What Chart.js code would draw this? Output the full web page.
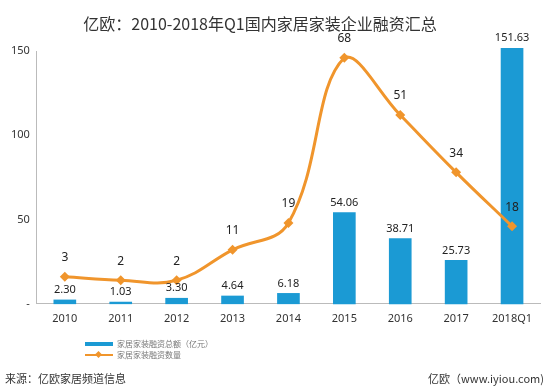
<!DOCTYPE html>
<html lang="zh-CN">
<head>
  <meta charset="UTF-8" />
  <title>亿欧：2010-2018年Q1国内家居家装企业融资汇总</title>
  <script src="https://cdn.jsdelivr.net/npm/chart.js"></script>
  <style>
    body {
      margin: 0;
      padding: 0;
      background: #ffffff;
      font-family: 'Noto Sans CJK SC', 'Noto Sans', sans-serif;
    }
    .wrap {
      position: relative;
      width: 550px;
      height: 392px;
    }
    canvas { position: absolute; left: 0; top: 0; }
    .title {
      position: absolute;
      left: 0;
      width: 520px;
      top: 11px;
      text-align: center;
      font-size: 16px;
      color: #333;
    }
    .legend {
      position: absolute;
      left: 85px;
      top: 338px;
      font-size: 8px;
      color: #777;
      line-height: 11px;
    }
    .legend div { display: flex; align-items: center; }
    .swatch-bar {
      display: inline-block;
      width: 28px;
      height: 4px;
      background: #1b9ad4;
      margin-right: 4px;
    }
    .swatch-line {
      display: inline-block;
      position: relative;
      width: 28px;
      height: 2px;
      background: #f0952c;
      margin-right: 4px;
    }
    .swatch-line::after {
      content: '';
      position: absolute;
      left: 11px;
      top: -2px;
      width: 5px;
      height: 5px;
      background: #f0952c;
      transform: rotate(45deg);
    }
    .footer {
      position: absolute;
      top: 370px;
      font-size: 11px;
      color: #333;
    }
  </style>
</head>
<body>
  <div class="wrap">
    <canvas id="chart" width="550" height="392"></canvas>
    <div class="title">亿欧：2010-2018年Q1国内家居家装企业融资汇总</div>
    <div class="legend">
      <div><span class="swatch-bar"></span>家居家装融资总额（亿元）</div>
      <div><span class="swatch-line"></span>家居家装融资数量</div>
    </div>
    <div class="footer" style="left:5px;">来源：亿欧家居频道信息</div>
    <div class="footer" style="right:6px;">亿欧（www.iyiou.com)</div>
  </div>

  <script>
    const years = ['2010', '2011', '2012', '2013', '2014', '2015', '2016', '2017', '2018Q1'];
    const amounts = [2.30, 1.03, 3.30, 4.64, 6.18, 54.06, 38.71, 25.73, 151.63];
    const counts = [3, 2, 2, 11, 19, 68, 51, 34, 18];
    const yTicks = [0, 50, 100, 150];

    // draw the numbers above bars and points
    const valueLabels = {
      id: 'valueLabels',
      afterDatasetsDraw(chart) {
        const ctx = chart.ctx;
        ctx.save();
        ctx.fillStyle = '#222';
        ctx.textAlign = 'center';
        ctx.textBaseline = 'middle';
        ctx.font = '11px "Noto Sans", sans-serif';
        chart.getDatasetMeta(0).data.forEach((bar, i) => {
          ctx.fillText(amounts[i].toFixed(2), bar.x, bar.y - 10);
        });
        ctx.font = '12px "Noto Sans", sans-serif';
        chart.getDatasetMeta(1).data.forEach((pt, i) => {
          ctx.fillText(String(counts[i]), pt.x, pt.y - 19);
        });
        ctx.restore();
      }
    };

    new Chart(document.getElementById('chart'), {
      data: {
        labels: years,
        datasets: [
          {
            type: 'bar',
            label: '家居家装融资总额（亿元）',
            data: amounts,
            backgroundColor: '#1b9ad4',
            barThickness: 22,
            yAxisID: 'y',
            clip: false,
            order: 2
          },
          {
            type: 'line',
            label: '家居家装融资数量',
            data: counts,
            borderColor: '#f0952c',
            backgroundColor: '#f0952c',
            borderWidth: 3,
            tension: 0.4,
            pointStyle: 'rectRot',
            pointRadius: 5,
            pointBorderWidth: 0,
            yAxisID: 'y2',
            order: 1
          }
        ]
      },
      options: {
        responsive: false,
        animation: false,
        layout: { padding: { left: 4, right: 10, top: 51, bottom: 59 } },
        plugins: {
          legend: { display: false },
          tooltip: { enabled: false },
          title: { display: false }
        },
        scales: {
          x: {
            grid: { display: false, drawTicks: false },
            border: { color: '#bbb' },
            ticks: { color: '#333', font: { size: 11, family: '"Noto Sans", sans-serif' }, padding: 8 }
          },
          y: {
            position: 'left',
            min: 0,
            max: 150,
            afterBuildTicks: axis => { axis.ticks = yTicks.map(v => ({ value: v })); },
            grid: { display: false, drawTicks: false },
            border: { color: '#bbb' },
            ticks: {
              color: '#333',
              font: { size: 11, family: '"Noto Sans", sans-serif' },
              padding: 7,
              callback: v => (v === 0 ? '-' : v)
            }
          },
          y2: {
            display: false,
            min: -5,
            max: 70
          }
        }
      },
      plugins: [valueLabels]
    });
  </script>
</body>
</html>
